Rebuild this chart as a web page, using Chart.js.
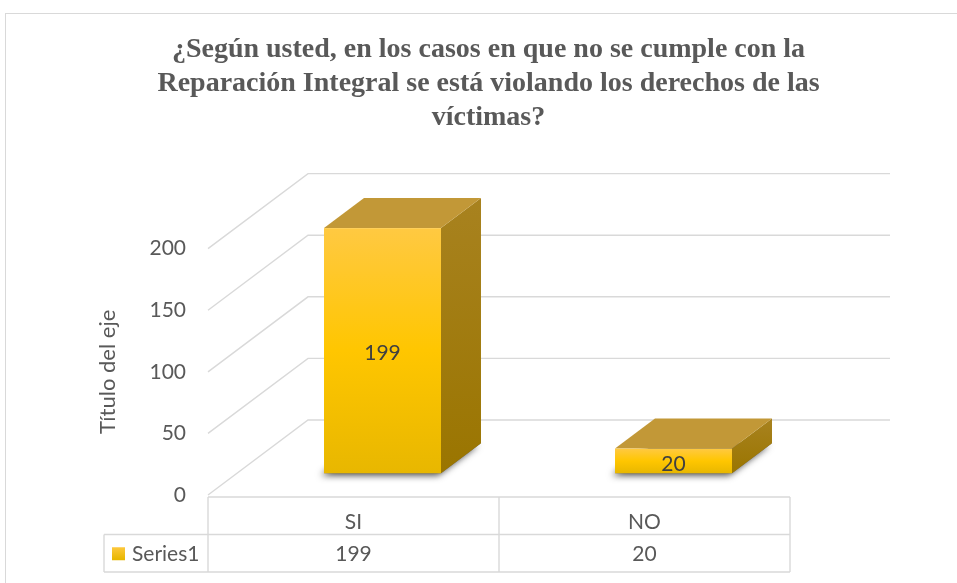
<!DOCTYPE html>
<html>
<head>
<meta charset="utf-8">
<script src="https://cdn.jsdelivr.net/npm/chart.js@4.4.1/dist/chart.umd.min.js"></script>
<style>
  html, body { margin: 0; padding: 0; background: #fff; }
  canvas { display: block; }
</style>
</head>
<body>
<canvas id="myChart" width="957" height="583"></canvas>
<script>
var categories = ['SI', 'NO'];
var seriesName = 'Series1';
var values = [199, 20];
var titleLines = [
    '¿Según usted, en los casos en que no se cumple con la',
    'Reparación Integral se está violando los derechos de las',
    'víctimas?'
];
var axisTitle = 'Título del eje';

// depth of the 3d box (full wall) and where the bars sit inside it
var DEPTH_X = 100, DEPTH_Y = -75;
var BAR_Z0 = 0.29, BAR_Z1 = 0.69;
var GRID = '#d9d9d9';
var TEXT = '#595959';
var SANS = 'Lato, "Open Sans", sans-serif';

function poly(ctx, pts) {
    ctx.beginPath();
    ctx.moveTo(pts[0][0], pts[0][1]);
    for (var i = 1; i < pts.length; i++) ctx.lineTo(pts[i][0], pts[i][1]);
    ctx.closePath();
}

var excel3d = {
    id: 'excel3d',
    beforeDraw: function(chart) {
        var ctx = chart.ctx;
        ctx.save();
        ctx.strokeStyle = GRID;
        ctx.lineWidth = 1;
        ctx.strokeRect(5.5, 13.5, 1000, 1000);
        ctx.restore();
    },
    beforeDatasetsDraw: function(chart) {
        var ctx = chart.ctx, a = chart.chartArea, y = chart.scales.y;
        ctx.save();
        ctx.strokeStyle = GRID;
        ctx.lineWidth = 1.4;
        y.ticks.forEach(function(t) {
            var py = y.getPixelForValue(t.value);
            ctx.beginPath();
            ctx.moveTo(a.left, py);
            ctx.lineTo(a.left + DEPTH_X, py + DEPTH_Y);
            ctx.lineTo(a.right + DEPTH_X, py + DEPTH_Y);
            ctx.stroke();
        });
        ctx.restore();
    },
    afterDatasetsDraw: function(chart) {
        var ctx = chart.ctx, a = chart.chartArea;
        var meta = chart.getDatasetMeta(0);
        var dx0 = DEPTH_X * BAR_Z0, dy0 = DEPTH_Y * BAR_Z0;
        var dx1 = DEPTH_X * BAR_Z1, dy1 = DEPTH_Y * BAR_Z1;

        meta.data.forEach(function(bar, i) {
            var p = bar.getProps(['x', 'y', 'base', 'width'], true);
            var L0 = p.x - p.width / 2 + dx0, R0 = p.x + p.width / 2 + dx0;
            var L1 = p.x - p.width / 2 + dx1, R1 = p.x + p.width / 2 + dx1;
            var T0 = p.y + dy0, B0 = p.base + dy0;
            var T1 = p.y + dy1, B1 = p.base + dy1;

            ctx.save();
            // soft shadow under the box
            ctx.shadowColor = 'rgba(0,0,0,0.75)';
            ctx.shadowBlur = 7;
            ctx.shadowOffsetX = -3;
            ctx.shadowOffsetY = 2;
            ctx.fillStyle = '#6b6b6b';
            poly(ctx, [[L0, B0], [R0, B0], [R1, B1], [L1, B1]]);
            ctx.fill();
            ctx.restore();

            ctx.save();
            // right side
            var gs = ctx.createLinearGradient(0, T1, 0, B0);
            gs.addColorStop(0, '#a8821f');
            gs.addColorStop(1, '#9a7500');
            ctx.fillStyle = gs;
            poly(ctx, [[R0, T0], [R1, T1], [R1, B1], [R0, B0]]);
            ctx.fill();
            // top
            ctx.fillStyle = '#c29837';
            poly(ctx, [[L0, T0], [R0, T0], [R1, T1], [L1, T1]]);
            ctx.fill();
            // front
            var gf = ctx.createLinearGradient(0, T0, 0, B0);
            gf.addColorStop(0, '#ffc942');
            gf.addColorStop(0.5, '#ffc600');
            gf.addColorStop(1, '#e8b700');
            ctx.fillStyle = gf;
            ctx.fillRect(L0, T0, R0 - L0, B0 - T0);

            ctx.fillStyle = '#404040';
            ctx.font = '21px ' + SANS;
            ctx.textAlign = 'center';
            ctx.textBaseline = 'middle';
            ctx.fillText(String(values[i]), (L0 + R0) / 2, (T0 + B0) / 2 + 3);
            ctx.restore();
        });

        // data table
        var top = a.bottom + 2, rowH = 37.5;
        var colW = (a.right - a.left) / categories.length;
        var keyLeft = a.left - 104;
        ctx.save();
        ctx.strokeStyle = GRID;
        ctx.lineWidth = 1.4;
        ctx.beginPath();
        ctx.moveTo(a.left, top); ctx.lineTo(a.right, top);
        ctx.moveTo(keyLeft, top + rowH); ctx.lineTo(a.right, top + rowH);
        ctx.moveTo(keyLeft, top + 2 * rowH); ctx.lineTo(a.right, top + 2 * rowH);
        ctx.moveTo(keyLeft, top + rowH); ctx.lineTo(keyLeft, top + 2 * rowH);
        for (var c = 0; c <= categories.length; c++) {
            ctx.moveTo(a.left + c * colW, top);
            ctx.lineTo(a.left + c * colW, top + 2 * rowH);
        }
        ctx.stroke();

        ctx.fillStyle = TEXT;
        ctx.font = '21px ' + SANS;
        ctx.textAlign = 'center';
        ctx.textBaseline = 'middle';
        categories.forEach(function(cat, i) {
            var cx = a.left + (i + 0.5) * colW;
            ctx.fillText(cat, cx, top + rowH / 2 + 6);
            ctx.fillText(String(values[i]), cx, top + rowH * 1.5 + 1);
        });
        // legend key
        var ky = top + rowH * 1.5;
        var gk = ctx.createLinearGradient(0, ky - 7, 0, ky + 6);
        gk.addColorStop(0, '#ffc942');
        gk.addColorStop(1, '#e8b700');
        ctx.fillStyle = gk;
        ctx.fillRect(keyLeft + 8, ky - 6, 13, 13);
        ctx.fillStyle = TEXT;
        ctx.textAlign = 'left';
        ctx.fillText(seriesName, keyLeft + 28, ky + 1);
        ctx.restore();
    }
};

var ctx = document.getElementById('myChart').getContext('2d');
var chart = new Chart(ctx, {
    type: 'bar',
    data: {
        labels: categories,
        datasets: [{
            label: seriesName,
            data: values,
            backgroundColor: 'rgba(0,0,0,0)',
            borderWidth: 0,
            categoryPercentage: 1,
            barPercentage: 0.402
        }]
    },
    options: {
        responsive: false,
        animation: false,
        layout: { padding: { top: 0, right: 0, bottom: 88, left: 20 } },
        plugins: {
            legend: { display: false },
            tooltip: { enabled: false },
            title: {
                display: true,
                text: titleLines,
                color: TEXT,
                font: { family: '"Liberation Serif", "Times New Roman", serif', weight: 'bold', size: 28, lineHeight: 1.21 },
                padding: { top: 33, bottom: 114 }
            }
        },
        scales: {
            x: { display: false },
            y: {
                min: 0,
                max: 200,
                ticks: { stepSize: 50, padding: 22, color: TEXT, font: { family: SANS, size: 21 } },
                grid: { display: false, drawTicks: false },
                border: { display: false },
                title: {
                    display: true,
                    text: axisTitle,
                    color: TEXT,
                    font: { family: SANS, size: 22 },
                    padding: { top: 75, bottom: 0 }
                },
                afterFit: function(scale) { scale.width = 188; }
            },
            // empty right-hand strip so the 3d wall has room past the plot
            depth: {
                type: 'linear',
                position: 'right',
                ticks: { display: false },
                grid: { display: false, drawTicks: false },
                border: { display: false },
                afterFit: function(scale) { scale.width = 167; }
            }
        }
    },
    plugins: [excel3d]
});
</script>
</body>
</html>
